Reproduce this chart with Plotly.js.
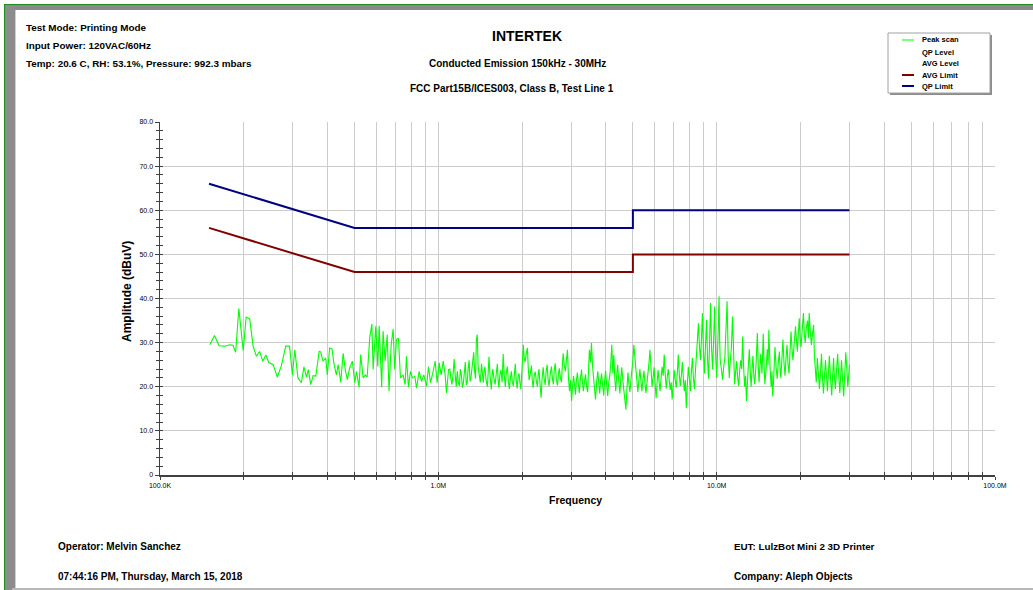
<!DOCTYPE html>
<html><head><meta charset="utf-8">
<script src="https://cdn.plot.ly/plotly-3.0.1.min.js"></script>
<style>
html,body{margin:0;padding:0;background:#fff;}
#wrap{position:relative;width:1033px;height:590px;overflow:hidden;background:#fff;}
#chart{position:absolute;left:0;top:0;width:1033px;height:590px;}
.fr{position:absolute;pointer-events:none;}
</style></head><body>
<div id="wrap">
<div id="chart"></div>
<div class="fr" style="left:4px;top:4px;width:1029px;height:1px;background:#228b22"></div>
<div class="fr" style="left:5px;top:5px;width:1028px;height:5px;background:#8a8a8a"></div>
<div class="fr" style="left:4px;top:4px;width:1px;height:586px;background:#228b22"></div>
<div class="fr" style="left:5px;top:5px;width:10px;height:585px;background:#8c8c8c"></div>
<div class="fr" style="left:15px;top:10px;width:1px;height:580px;background:#cfcfcf"></div>
<div class="fr" style="left:12px;top:588px;width:1021px;height:2px;background:#b8b8b8"></div>
</div>
<script>
// ---------------- DATA ----------------
// Peak scan, 150 kHz - 1.1 MHz (frequency in MHz, amplitude in dBuV)
const peakFreqLow = [0.151,0.157,0.163,0.171,0.178,0.183,0.187,0.192,0.199,0.204,
0.210,0.216,0.222,0.228,0.234,0.240,0.246,0.255,0.264,0.273,
0.283,0.292,0.299,0.305,0.313,0.322,0.329,0.336,0.341,0.348,
0.355,0.363,0.373,0.378,0.385,0.394,0.399,0.407,0.415,0.421,
0.430,0.437,0.446,0.455,0.463,0.471,0.480,0.491,0.501,0.508,
0.519,0.526,0.537,0.546,0.555,0.567,0.577,0.583,0.596,0.606,
0.613,0.626,0.633,0.644,0.655,0.665,0.677,0.688,0.697,0.707,
0.719,0.731,0.747,0.760,0.768,0.781,0.794,0.807,0.823,0.835,
0.853,0.870,0.887,0.907,0.922,0.937,0.958,0.974,0.990,1.007,
1.024,1.041,1.058,1.070,1.088];
const peakAmpLow = [29.5,31.6,29.3,29.2,29.5,29.4,27.8,37.7,28.2,35.8,
35.4,29.2,26.9,28.0,25.8,27.2,25.5,25.0,22.2,24.8,
29.2,29.2,22.7,28.4,22.0,20.9,24.5,22.2,23.9,20.5,
22.5,22.4,28.0,27.9,25.8,26.5,22.7,28.8,28.6,25.5,
22.7,25.0,21.0,27.6,23.9,21.6,24.2,25.8,20.9,23.5,
19.9,27.3,22.0,22.7,22.2,31.2,34.2,23.9,33.7,24.6,
33.8,19.9,32.6,25.8,31.8,19.0,29.5,33.1,23.9,30.7,
31.0,22.0,22.7,20.5,26.9,19.9,23.5,22.0,22.4,19.7,
23.5,21.2,22.7,20.1,24.6,20.9,23.5,25.8,20.9,25.4,
22.7,25.8,22.7,18.6,23.9];

// Peak scan, 1.1 - 8 MHz, [MHz, dBuV]
const peakMid = [
[1.10,24.0],[1.11,21.8],[1.12,20.5],[1.13,23.0],[1.14,26.3],[1.15,22.5],[1.16,20.0],[1.165,22.0],[1.17,23.5],[1.18,21.0],
[1.19,20.2],[1.20,24.0],[1.21,22.6],[1.22,19.8],[1.23,20.8],[1.24,23.2],[1.25,25.6],[1.26,20.4],[1.27,21.0],[1.28,24.2],
[1.29,26.0],[1.30,21.2],[1.31,22.0],[1.325,25.0],[1.34,27.8],[1.35,23.5],[1.36,21.8],[1.37,30.7],[1.38,31.8],[1.39,24.5],
[1.40,23.0],[1.415,21.0],[1.43,25.2],[1.44,22.8],[1.45,20.9],[1.46,23.5],[1.47,24.5],[1.485,21.5],[1.50,20.0],[1.51,23.0],
[1.52,26.8],[1.535,22.2],[1.55,19.4],[1.56,22.5],[1.57,24.0],[1.585,21.8],[1.60,20.5],[1.615,23.0],[1.63,25.2],[1.64,21.5],
[1.65,19.8],[1.665,22.8],[1.68,23.8],[1.695,21.0],[1.71,27.4],[1.725,22.6],[1.74,20.0],[1.755,23.2],[1.77,24.6],[1.785,21.2],
[1.80,19.5],[1.815,22.0],[1.83,23.5],[1.845,21.0],[1.86,20.2],[1.875,22.5],[1.89,25.2],[1.905,21.5],[1.92,19.6],[1.935,22.4],
[1.95,23.0],[1.965,20.8],[1.98,19.4],[2.00,24.5],[2.02,29.5],[2.035,26.5],[2.05,25.6],[2.07,27.5],[2.09,28.8],[2.105,24.0],
[2.12,21.5],[2.14,23.0],[2.16,24.8],[2.175,21.5],[2.19,19.8],[2.21,22.5],[2.23,23.4],[2.25,21.2],[2.27,20.0],[2.285,22.8],
[2.30,24.0],[2.32,20.5],[2.34,17.5],[2.36,22.0],[2.38,24.4],[2.40,21.8],[2.42,20.4],[2.44,23.5],[2.46,25.0],[2.48,21.5],
[2.50,20.2],[2.525,23.0],[2.55,24.6],[2.57,21.8],[2.59,20.6],[2.61,23.8],[2.63,25.3],[2.655,21.5],[2.68,20.3],[2.70,22.8],
[2.72,24.2],[2.745,22.0],[2.77,21.0],[2.79,25.0],[2.81,27.6],[2.835,24.8],[2.86,23.5],[2.885,26.0],[2.91,28.4],[2.935,22.0],
[2.96,19.0],[2.985,21.5],[3.01,16.8],[3.035,20.0],[3.06,22.5],[3.085,20.4],[3.11,18.2],[3.135,21.5],[3.16,23.2],[3.185,20.5],
[3.21,18.6],[3.24,21.8],[3.27,23.9],[3.295,21.0],[3.32,19.0],[3.35,21.2],[3.38,22.8],[3.41,20.0],[3.44,18.8],[3.465,24.0],
[3.49,28.4],[3.52,25.5],[3.55,29.9],[3.58,24.8],[3.61,22.0],[3.64,20.0],[3.67,17.1],[3.705,21.0],[3.74,23.5],[3.77,20.8],
[3.80,18.5],[3.83,21.5],[3.86,23.0],[3.895,20.2],[3.93,18.0],[3.96,21.6],[3.99,23.6],[4.025,20.5],[4.06,17.9],[4.095,21.0],
[4.13,22.4],[4.165,25.5],[4.20,29.5],[4.235,23.0],[4.27,27.2],[4.305,22.0],[4.34,19.0],[4.375,22.8],[4.41,25.0],[4.45,21.2],
[4.49,18.5],[4.525,21.8],[4.56,24.4],[4.60,21.5],[4.64,19.2],[4.68,17.0],[4.72,14.8],[4.76,19.5],[4.80,23.2],[4.84,20.5],
[4.88,18.8],[4.92,21.6],[4.96,23.5],[5.00,26.0],[5.04,29.5],[5.085,26.8],[5.13,24.2],[5.17,21.0],[5.21,18.8],[5.255,21.5],
[5.30,24.0],[5.345,21.2],[5.39,19.0],[5.435,21.8],[5.48,23.6],[5.525,20.8],[5.57,18.6],[5.62,21.0],[5.67,22.8],[5.715,25.5],
[5.76,28.4],[5.81,23.0],[5.86,20.0],[5.91,22.0],[5.96,24.4],[6.01,20.8],[6.06,17.4],[6.11,21.0],[6.16,23.8],[6.21,21.2],
[6.26,19.0],[6.315,22.0],[6.37,24.5],[6.425,22.5],[6.48,27.3],[6.535,22.8],[6.59,19.6],[6.645,22.2],[6.70,24.0],[6.755,21.5],
[6.81,19.3],[6.865,21.0],[6.92,17.1],[6.98,20.5],[7.04,23.8],[7.10,21.5],[7.16,19.8],[7.22,23.0],[7.28,27.3],[7.34,22.8],
[7.40,20.2],[7.465,22.5],[7.53,25.6],[7.59,22.0],[7.65,19.0],[7.715,21.5],[7.78,15.2],[7.845,20.5],[7.91,24.5],[7.98,22.0],
[8.05,19.0]];

// Peak scan, 8 - 30 MHz, [MHz, dBuV]
const peakHigh = [
[8.115,23.5],[8.18,26.5],[8.25,22.0],[8.32,19.5],[8.39,23.5],[8.46,27.0],[8.53,29.5],[8.60,34.4],[8.675,29.0],[8.75,26.0],
[8.82,31.0],[8.89,36.7],[8.965,28.0],[9.04,23.0],[9.12,29.5],[9.20,35.2],[9.275,26.0],[9.35,21.8],[9.43,30.0],[9.51,39.0],
[9.59,28.5],[9.67,24.0],[9.75,30.5],[9.83,38.2],[9.915,27.5],[10.0,22.0],[10.1,30.0],[10.2,40.5],[10.25,30.5],[10.3,26.0],
[10.4,24.0],[10.5,21.6],[10.6,24.5],[10.7,26.5],[10.8,33.0],[10.9,39.4],[11.0,27.0],[11.1,22.0],[11.15,24.5],[11.2,26.0],
[11.3,29.0],[11.4,35.9],[11.5,25.5],[11.6,20.5],[11.7,23.5],[11.8,25.8],[11.9,22.0],[12.0,20.2],[12.1,23.8],[12.2,26.0],
[12.3,24.0],[12.4,31.4],[12.5,24.5],[12.6,20.0],[12.7,22.5],[12.8,16.8],[12.95,23.0],[13.1,28.5],[13.2,23.5],[13.3,20.0],
[13.4,24.0],[13.5,27.0],[13.6,22.5],[13.7,20.5],[13.85,25.0],[14.0,32.2],[14.1,25.0],[14.2,21.0],[14.3,24.5],[14.4,27.5],
[14.55,23.0],[14.7,32.0],[14.8,25.0],[14.9,20.5],[15.05,24.0],[15.2,28.5],[15.3,25.0],[15.4,32.9],[15.55,24.5],[15.7,20.0],
[15.8,23.5],[15.9,17.8],[16.05,23.0],[16.2,29.0],[16.35,24.5],[16.5,21.8],[16.65,25.5],[16.8,28.0],[16.9,24.0],[17.0,22.0],
[17.15,26.0],[17.3,30.7],[17.45,25.5],[17.6,22.5],[17.75,26.5],[17.9,29.5],[18.05,25.0],[18.2,23.0],[18.35,28.0],[18.5,32.5],
[18.65,28.5],[18.8,26.0],[19.0,30.0],[19.2,33.7],[19.35,30.5],[19.5,28.0],[19.65,32.0],[19.8,35.5],[19.95,31.0],[20.1,29.0],
[20.3,33.0],[20.5,36.7],[20.65,32.0],[20.8,30.0],[21.0,33.5],[21.2,35.0],[21.35,31.0],[21.5,36.7],[21.7,32.5],[21.9,29.5],
[22.1,32.0],[22.3,34.0],[22.45,27.0],[22.6,23.0],[22.8,21.0],[23.0,26.5],[23.2,22.5],[23.4,19.5],[23.6,23.0],[23.8,27.5],
[24.0,22.0],[24.2,18.5],[24.4,22.5],[24.6,26.0],[24.8,22.5],[25.0,19.0],[25.2,23.0],[25.4,27.0],[25.65,22.0],[25.9,18.0],
[26.1,22.5],[26.3,26.5],[26.5,22.0],[26.7,19.5],[26.95,23.5],[27.2,27.5],[27.45,22.5],[27.7,18.6],[27.9,22.5],[28.1,26.0],
[28.35,21.5],[28.6,17.8],[28.85,23.0],[29.1,27.8],[29.35,24.0],[29.6,20.0],[29.8,22.5],[30.0,25.0]];

// Limits
const limitFreq = [0.15, 0.5, 5, 5, 30];
const qpLimit   = [66, 56, 56, 60, 60];
const avgLimit  = [56, 46, 46, 50, 50];

// Axis ticks
const xTickVals = [0.1,0.2,0.3,0.4,0.5,0.6,0.7,0.8,0.9,1,2,3,4,5,6,7,8,9,10,20,30,40,50,60,70,80,90,100];
const xTickText = ['100.0K','','','','','','','','','1.0M','','','','','','','','','10.0M','','','','','','','','','100.0M'];
const yTickVals = [0,10,20,30,40,50,60,70,80];
const yTickText = ['0','10.0','20.0','30.0','40.0','50.0','60.0','70.0','80.0'];

// ---------------- LAYOUT ----------------
const W=1033,H=590,ML=160,MR=38,MT=122,MB=115;
const pw=W-ML-MR, ph=H-MT-MB;
function X(px){return (px-ML)/pw;}
function Y(py){return (H-MB-py)/ph;}
const FF='"Liberation Sans Narrow","Arial Narrow","Liberation Sans",Arial,sans-serif';
const FB='"Liberation Sans",Arial,sans-serif';

const peakFreq = peakFreqLow.concat(peakMid.map(p=>p[0]), peakHigh.map(p=>p[0]));
const peakAmp  = peakAmpLow.concat(peakMid.map(p=>p[1]), peakHigh.map(p=>p[1]));

const traces = [
 {x:peakFreq, y:peakAmp, type:'scatter', mode:'lines', line:{color:'#00ff00', width:1.1}, showlegend:false, hoverinfo:'skip'},
 {x:limitFreq, y:avgLimit, type:'scatter', mode:'lines', line:{color:'#800000', width:2}, showlegend:false, hoverinfo:'skip'},
 {x:limitFreq, y:qpLimit, type:'scatter', mode:'lines', line:{color:'#000080', width:2}, showlegend:false, hoverinfo:'skip'},
 {x:[], y:[], xaxis:'x2', yaxis:'y2', type:'scatter', mode:'lines', showlegend:false, hoverinfo:'skip'}
];

function ann(text, px, py, size, anchor, extra){
  return Object.assign({text:'<b>'+text+'</b>', x:X(px), y:Y(py), xref:'paper', yref:'paper',
    xanchor:anchor||'left', yanchor:'middle', showarrow:false,
    font:{family:FB, size:size, color:'#000'}}, extra||{});
}

const annotations = [
 ann('Test Mode: Printing Mode', 24, 27, 9.9),
 ann('Input Power: 120VAC/60Hz', 24, 45, 9.9),
 ann('Temp: 20.6 C, RH: 53.1%, Pressure: 992.3 mbars', 24, 63, 9.9),
 ann('INTERTEK', 527, 36, 14, 'center'),
 ann('Conducted Emission 150kHz - 30MHz', 517.5, 64, 10, 'center'),
 ann('FCC Part15B/ICES003, Class B, Test Line 1', 512, 88, 10, 'center'),
 ann('Amplitude (dBuV)', 127, 292, 12, 'center', {textangle:-90}),
 ann('Frequency', 575.5, 500, 10.5, 'center'),
 ann('Operator: Melvin Sanchez', 56, 546, 10),
 ann('07:44:16 PM, Thursday, March 15, 2018', 56, 576, 10),
 ann('EUT: LulzBot Mini 2 3D Printer', 732, 546, 9.8),
 ann('Company: Aleph Objects', 732, 576, 10),
 ann('Peak scan', 920, 40, 7.5),
 ann('QP Level', 920, 52.5, 7.5),
 ann('AVG Level', 920, 63.5, 7.5),
 ann('AVG Limit', 920, 75, 7.5),
 ann('QP Limit', 920, 86, 7.5)
];

const shapes = [
 {type:'rect', xref:'paper', yref:'paper', x0:X(890), x1:X(992), y0:Y(35), y1:Y(95), fillcolor:'#8c8c8c', line:{width:0}, layer:'above'},
 {type:'rect', xref:'paper', yref:'paper', x0:X(888), x1:X(990), y0:Y(33), y1:Y(93), fillcolor:'#ffffff', line:{color:'#a0a0a0', width:1}, layer:'above'},
 {type:'line', xref:'paper', yref:'paper', x0:X(902), x1:X(914), y0:Y(40), y1:Y(40), line:{color:'#00ff00', width:1}, layer:'above'},
 {type:'line', xref:'paper', yref:'paper', x0:X(902), x1:X(914), y0:Y(75), y1:Y(75), line:{color:'#800000', width:2}, layer:'above'},
 {type:'line', xref:'paper', yref:'paper', x0:X(902), x1:X(914), y0:Y(86), y1:Y(86), line:{color:'#000080', width:2}, layer:'above'}
];

const layout = {
 width:W, height:H, margin:{l:ML, r:MR, t:MT, b:MB, pad:0},
 paper_bgcolor:'#ffffff', plot_bgcolor:'#ffffff', showlegend:false,
 xaxis:{type:'log', range:[-1,2], tickmode:'array', tickvals:xTickVals, ticktext:xTickText,
   ticks:'outside', ticklen:3, tickwidth:1, tickcolor:'#404040',
   showgrid:true, gridcolor:'#cdcdcd', gridwidth:1, showline:true, linecolor:'#404040', linewidth:1.5,
   zeroline:false, tickfont:{family:FF, size:7, color:'#000'}, fixedrange:true},
 yaxis:{range:[0,80], tickmode:'array', tickvals:yTickVals, ticktext:yTickText,
   ticks:'outside', ticklen:4, tickwidth:1, tickcolor:'#404040',
   minor:{tickmode:'linear', tick0:0, dtick:2, ticks:'outside', ticklen:3, tickcolor:'#404040', showgrid:false},
   showgrid:true, gridcolor:'#cdcdcd', gridwidth:1, showline:true, linecolor:'#404040', linewidth:1.5,
   zeroline:false, tickfont:{family:FF, size:7, color:'#000'}, fixedrange:true},
 xaxis2:{type:'log', range:[-1,2], overlaying:'x', anchor:'y2', side:'bottom', tickmode:'array', tickvals:xTickVals,
   ticks:'inside', ticklen:3, tickcolor:'#404040', showticklabels:false, showgrid:false, showline:false, zeroline:false, fixedrange:true},
 yaxis2:{range:[0,80], overlaying:'y', anchor:'x2', side:'left', tickmode:'linear', tick0:0, dtick:2,
   ticks:'inside', ticklen:3, tickcolor:'#404040', showticklabels:false, showgrid:false, showline:false, zeroline:false, fixedrange:true},
 annotations:annotations, shapes:shapes
};

Plotly.newPlot('chart', traces, layout, {displayModeBar:false, staticPlot:true});
</script>
</body></html>
